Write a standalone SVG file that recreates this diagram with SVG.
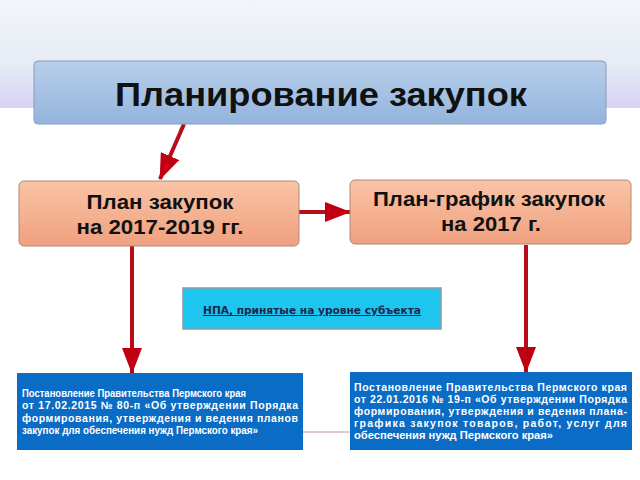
<svg xmlns="http://www.w3.org/2000/svg" width="640" height="480" viewBox="0 0 640 480">
<defs>
<linearGradient id="bg" x1="0" y1="0" x2="0" y2="1">
<stop offset="0" stop-color="#f2f5f9"/>
<stop offset="0.6" stop-color="#e6ebf5"/>
<stop offset="1" stop-color="#d6d2f4"/>
</linearGradient>
<linearGradient id="blue" x1="0" y1="0" x2="0" y2="1">
<stop offset="0" stop-color="#b8cfea"/>
<stop offset="1" stop-color="#94b4de"/>
</linearGradient>
<linearGradient id="salmon" x1="0" y1="0" x2="0" y2="1">
<stop offset="0" stop-color="#f9c4a6"/>
<stop offset="1" stop-color="#f0a07e"/>
</linearGradient>
<marker id="ah" viewBox="0 0 26 20" refX="25" refY="10" markerWidth="26" markerHeight="20" markerUnits="userSpaceOnUse" orient="auto">
<path d="M0,0 L26,10 L0,20 Z" fill="#c00010"/>
</marker>
</defs>
<style>
.h{font-family:"Liberation Sans",Arial,sans-serif;font-weight:bold;fill:#111;text-anchor:middle}
.w{font-family:"Liberation Sans",Arial,sans-serif;font-weight:bold;fill:#fff;font-size:10.5px}
.arr{stroke:#b80c18;stroke-width:4;fill:none}
</style>
<rect x="0" y="0" width="640" height="108" fill="url(#bg)"/>
<rect x="0" y="108" width="640" height="372" fill="#fff"/>
<g id="connectors">
<line class="arr" x1="184" y1="124" x2="160" y2="179" marker-end="url(#ah)"/>
<line class="arr" x1="299" y1="212" x2="350" y2="212" marker-end="url(#ah)"/>
<line class="arr" x1="132" y1="246" x2="132" y2="373" marker-end="url(#ah)"/>
<line class="arr" x1="526" y1="245" x2="526" y2="372" marker-end="url(#ah)"/>
<line x1="303" y1="432" x2="350" y2="432" stroke="#c89494" stroke-width="1"/>
</g>
<g id="node-main">
<rect x="34" y="61" width="572" height="63" rx="4" fill="url(#blue)" stroke="#8a9cba" stroke-width="1"/>
<text class="h" x="321" y="106" font-size="34" textLength="412" lengthAdjust="spacingAndGlyphs">Планирование закупок</text>
</g>
<g id="node-plan">
<rect x="19" y="181" width="280" height="65" rx="5" fill="url(#salmon)" stroke="#b08878" stroke-width="1"/>
<text class="h" x="160" y="209" font-size="21" textLength="147" lengthAdjust="spacingAndGlyphs">План закупок</text>
<text class="h" x="160" y="234" font-size="21" textLength="167" lengthAdjust="spacingAndGlyphs">на 2017-2019 гг.</text>
</g>
<g id="node-graph">
<rect x="350" y="180" width="281" height="64" rx="5" fill="url(#salmon)" stroke="#b08878" stroke-width="1"/>
<text class="h" x="489" y="206" font-size="21" textLength="232" lengthAdjust="spacingAndGlyphs">План-график закупок</text>
<text class="h" x="491" y="231" font-size="21" textLength="100" lengthAdjust="spacingAndGlyphs">на 2017 г.</text>
</g>
<g id="node-npa">
<rect x="183" y="288" width="258" height="41" fill="#1ec6ef" stroke="#8a9aa8" stroke-width="1.5"/>
<text x="312" y="314" font-family="'DejaVu Sans',Verdana,sans-serif" font-weight="bold" font-size="10" fill="#1a2850" text-anchor="middle" text-decoration="underline" textLength="218" lengthAdjust="spacingAndGlyphs">НПА, принятые на уровне субъекта</text>
</g>
<g id="node-left">
<rect x="17" y="373" width="286" height="77" fill="#0a6cc4"/>
<text class="w" x="22" y="397" textLength="224" lengthAdjust="spacingAndGlyphs">Постановление Правительства Пермского края</text>
<text class="w" x="22" y="409" textLength="276" lengthAdjust="spacing">от 17.02.2015 № 80-п «Об утверждении Порядка</text>
<text class="w" x="22" y="422" textLength="276" lengthAdjust="spacing">формирования, утверждения и ведения планов</text>
<text class="w" x="22" y="434" textLength="236" lengthAdjust="spacingAndGlyphs">закупок для обеспечения нужд Пермского края»</text>
</g>
<g id="node-right">
<rect x="350" y="372" width="282" height="78" fill="#0a6cc4"/>
<text class="w" x="354" y="391" textLength="273" lengthAdjust="spacing">Постановление Правительства Пермского края</text>
<text class="w" x="354" y="403" textLength="273" lengthAdjust="spacing">от 22.01.2016 № 19-п «Об утверждении Порядка</text>
<text class="w" x="354" y="415" textLength="273" lengthAdjust="spacing">формирования, утверждения и ведения плана-</text>
<text class="w" x="354" y="427" textLength="273" lengthAdjust="spacing">графика закупок товаров, работ, услуг для</text>
<text class="w" x="354" y="439" textLength="199" lengthAdjust="spacingAndGlyphs">обеспечения нужд Пермского края»</text>
</g>
</svg>
